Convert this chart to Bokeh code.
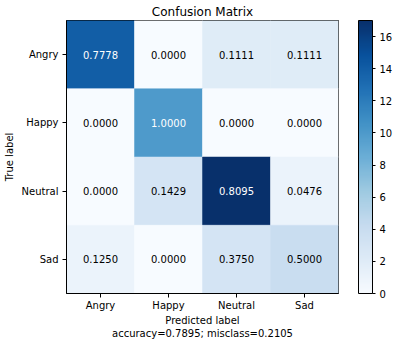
from bokeh.plotting import figure
from bokeh.models import ColumnDataSource, ColorBar, LinearColorMapper, FixedTicker, FactorRange
from bokeh.palettes import Blues256
from bokeh.embed import file_html
from bokeh.resources import INLINE
from bokeh.core.properties import value

# ---- data ----
labels = ["Angry", "Happy", "Neutral", "Sad"]
counts_angry = [14, 0, 2, 2]
counts_happy = [0, 10, 0, 0]
counts_neutral = [0, 3, 17, 1]
counts_sad = [1, 0, 3, 4]
accuracy = 0.7895
misclass = 0.2105
colorbar_ticks = [0, 2, 4, 6, 8, 10, 12, 14, 16]

counts = [counts_angry, counts_happy, counts_neutral, counts_sad]
cmax = max(max(r) for r in counts)

xs, ys, cs, txt, tcol = [], [], [], [], []
for i, t in enumerate(labels):
    row = counts[i]
    s = sum(row)
    for j, pl in enumerate(labels):
        xs.append(pl)
        ys.append(t)
        cs.append(row[j])
        txt.append(f"{row[j] / s:.4f}")
        tcol.append("white" if row[j] > cmax / 2 else "black")

src = ColumnDataSource(dict(x=xs, y=ys, c=cs, t=txt, tc=tcol))

FONT = "DejaVu Sans"
mapper = LinearColorMapper(palette=list(reversed(Blues256)), low=0, high=cmax)

p = figure(frame_width=272, frame_height=273, output_backend="svg", toolbar_location=None,
           x_range=FactorRange(*labels, range_padding=0),
           y_range=FactorRange(*reversed(labels), range_padding=0),
           min_border_left=57, min_border_right=0, min_border_top=0, min_border_bottom=0)

p.rect(x="x", y="y", width=1, height=1, source=src,
       fill_color={"field": "c", "transform": mapper},
       line_color={"field": "c", "transform": mapper}, line_width=0.5)
p.text(x="x", y="y", text="t", source=src, text_align="center", text_baseline="middle",
       text_font_size="10px", text_font=value(FONT), text_color="tc")

p.title.text = "Confusion Matrix"
p.title.align = "center"
p.title.text_font = FONT
p.title.text_font_size = "12px"
p.title.text_font_style = "normal"
p.title.text_color = "black"
p.title.standoff = 4

p.grid.visible = False
p.outline_line_color = "black"
p.outline_line_width = 1

for ax in (p.xaxis[0], p.yaxis[0]):
    ax.major_tick_in = 0
    ax.major_tick_out = 4
    ax.major_tick_line_color = "black"
    ax.axis_line_color = "black"
    ax.major_label_text_font = FONT
    ax.major_label_text_font_size = "10px"
    ax.major_label_text_color = "black"
    ax.axis_label_text_font = FONT
    ax.axis_label_text_font_size = "10px"
    ax.axis_label_text_font_style = "normal"
    ax.axis_label_text_color = "black"
    ax.major_label_standoff = 4
    ax.axis_label_standoff = 4

p.xaxis.axis_label = f"Predicted label\naccuracy={accuracy:.4f}; misclass={misclass:.4f}"
p.xaxis.major_label_standoff = 2
p.xaxis.axis_label_standoff = 1
p.yaxis.axis_label = "True label"

cb = ColorBar(color_mapper=mapper, ticker=FixedTicker(ticks=colorbar_ticks), width=14,
              bar_line_color="black", bar_line_width=1,
              major_tick_in=0, major_tick_out=3, major_tick_line_color="black",
              label_standoff=4, major_label_text_font=FONT, major_label_text_font_size="10px",
              major_label_text_color="black", location=(20, 0),
              padding=0, margin=0, border_line_color=None, background_fill_color=None)
p.add_layout(cb, "right")

open("out.html", "w").write(file_html(p, INLINE))
